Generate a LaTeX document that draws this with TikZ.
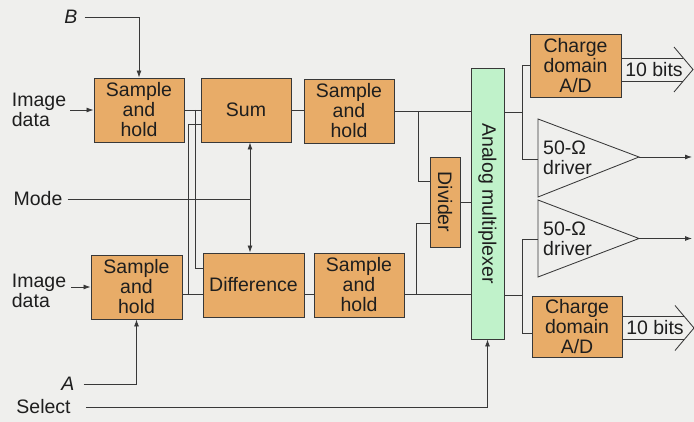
\documentclass[tikz,border=0pt]{standalone}
\usepackage{fontspec}
\setmainfont{Liberation Sans}
\usetikzlibrary{arrows.meta,calc}
\definecolor{bgc}{HTML}{EFEFED}
\definecolor{boxo}{HTML}{E8AC68}
\definecolor{boxg}{HTML}{C0F2CA}
\definecolor{linec}{HTML}{383838}
\definecolor{textc}{HTML}{1E1E1E}
\newcommand\dgfont{\fontsize{19.5}{20}\selectfont}
\tikzset{
  blk/.style={draw=linec, fill=boxo, line width=0.9pt, inner sep=0pt, align=center,
              minimum width=90pt, minimum height=64pt, font=\dgfont, text=textc},
  lbl/.style={font=\dgfont, align=left, inner sep=2pt, text=textc},
  wire/.style={draw=linec, line width=0.85pt},
  arr/.style={-{Latex[length=7pt,width=5pt]}},
  darr/.style={{Latex[length=7pt,width=5pt]}-{Latex[length=7pt,width=5pt]}},
  bits/.pic={
    \draw[wire] (-72,-11.5) -- (-9.7,-11.5);
    \draw[wire] (-72,11.5) -- (-9.7,11.5);
    \draw[wire] (-19,-22.5) -- (0,0) -- (-19,22.5);
    \node[lbl] at (-39,0) {10 bits};
  }
}
\begin{document}
\begin{tikzpicture}[x=1pt,y=-1pt]
\fill[bgc] (0,0) rectangle (694,422);
\useasboundingbox (0,0) rectangle (694,422);

% blocks
\node[blk] (SH1) at (139,110) {Sample\\and\\hold};
\node[blk] (Sum) at (246,110) {Sum};
\node[blk] (SH2) at (349,111) {Sample\\and\\hold};
\node[blk, minimum width=91pt] (SH3) at (136.5,287) {Sample\\and\\hold};
\node[blk, minimum width=101pt] (Diff) at (253.5,285) {Difference};
\node[blk] (SH4) at (359,285) {Sample\\and\\hold};
\node[blk, minimum width=30pt, minimum height=90pt] (Div) at (445,202) {};
\node[lbl, rotate=-90, inner sep=0pt] (DivT) at (Div.center) {Divider};
\node[blk, fill=boxg, minimum width=33pt, minimum height=271pt] (Mux) at (487.5,203.5) {};
\node[lbl, rotate=-90, inner sep=0pt] (MuxT) at (Mux.center) {Analog multiplexer};
\node[blk, minimum width=91pt, minimum height=63pt] (AD1) at (575.5,65.5) {Charge\\domain\\A/D};
\node[blk, minimum height=61pt] (AD2) at (577,326.5) {Charge\\domain\\A/D};

% drivers
\coordinate (D1a) at (538,119); \coordinate (D1b) at (538,197); \coordinate (D1t) at (639,157);
\coordinate (D2a) at (538,200); \coordinate (D2b) at (538,277); \coordinate (D2t) at (639,238.5);
\draw[wire, line join=miter] (D1a) -- (D1t) -- (D1b) -- cycle;
\draw[wire, line join=miter] (D2a) -- (D2t) -- (D2b) -- cycle;
\node[lbl, anchor=west] (D1l) at (541,158) {50-Ω\\driver};
\node[lbl, anchor=west] (D2l) at (541,239) {50-Ω\\driver};
\coordinate (D1in) at (538,159);
\coordinate (D2in) at (538,239);

% labels
\node[lbl, font=\dgfont\itshape] (B) at (71,17) {B};
\node[lbl, font=\dgfont\itshape] (A) at (68,384) {A};
\node[lbl] (img1) at (39,110) {Image\\data};
\node[lbl] (img2) at (39,291) {Image\\data};
\node[lbl] (mode) at (38,199) {Mode};
\node[lbl] (sel) at (43.5,407) {Select};

% helper coordinates
\coordinate (vx) at (250,199);
\coordinate (xa) at (195,0);
\coordinate (xb) at (188,0);
\coordinate (xc) at (418,0);
\coordinate (xd) at (416,0);
\coordinate (xe) at (522,0);
\coordinate (low) at (0,294);
\coordinate (SumIn2) at ($(Sum.north west)!0.72!(Sum.south west)$);
\coordinate (DiffIn1) at ($(Diff.north west)!0.25!(Diff.south west)$);
\coordinate (DivIn1) at ($(Div.north west)!0.278!(Div.south west)$);
\coordinate (DivIn2) at ($(Div.north west)!0.733!(Div.south west)$);
\coordinate (MO1) at ($(Mux.north east)!0.166!(Mux.south east)$);
\coordinate (MO2) at ($(Mux.north east)!0.838!(Mux.south east)$);
\coordinate (AD2in) at ($(AD2.north west)!0.615!(AD2.south west)$);
\coordinate (O1) at (692,157);
\coordinate (O2) at (692,238.5);
\coordinate (T1) at (693,69.5);
\coordinate (T2) at (694,328);

% inputs
\draw[wire, arr] ([xshift=5pt]B.east) -| (SH1.north);
\draw[wire, arr] ([xshift=2pt]img1.east) -- (SH1.west);
\draw[wire, arr] ([xshift=3pt]img2.east |- SH3.west) -- (SH3.west);
\draw[wire, arr] ([xshift=7pt]A.east) -| (SH3.south);
\draw[wire, arr] ([xshift=13pt]sel.east) -| (Mux.south);
\draw[wire] ([xshift=3pt]mode.east) -- (vx);
\draw[wire, darr] (Sum.south -| vx) -- (Diff.north -| vx);

% internal wiring
\draw[wire] (SH1.east) -- (Sum.west);
\draw[wire] (SH1.east -| xa) |- (DiffIn1);
\draw[wire] (SumIn2) -| (low -| xb);
\draw[wire] (SH3.east |- low) -- (Diff.west |- low);
\draw[wire] (Diff.east |- low) -- (SH4.west |- low);
\draw[wire] (SH4.east |- low) -- (Mux.west |- low);
\draw[wire] (Sum.east) -- (Sum.east -| SH2.west);
\draw[wire] (SH2.east) -- (SH2.east -| Mux.west);
\draw[wire] (SH2.east -| xc) |- (DivIn1);
\draw[wire] (low -| xd) |- (DivIn2);
\draw[wire] (Div.east) -- (Div.east -| Mux.west);

% outputs
\draw[wire] (MO1) -- (MO1 -| xe);
\draw[wire] (AD1.west) -| (D1in -| xe) -- (D1in);
\draw[wire] (MO2) -- (MO2 -| xe);
\draw[wire] (D2in) -| (AD2in -| xe) -- (AD2in);
\draw[wire, arr] (D1t) -- (O1);
\draw[wire, arr] (D2t) -- (O2);
\pic at (T1) {bits};
\pic at (T2) {bits};
\end{tikzpicture}
\end{document}
